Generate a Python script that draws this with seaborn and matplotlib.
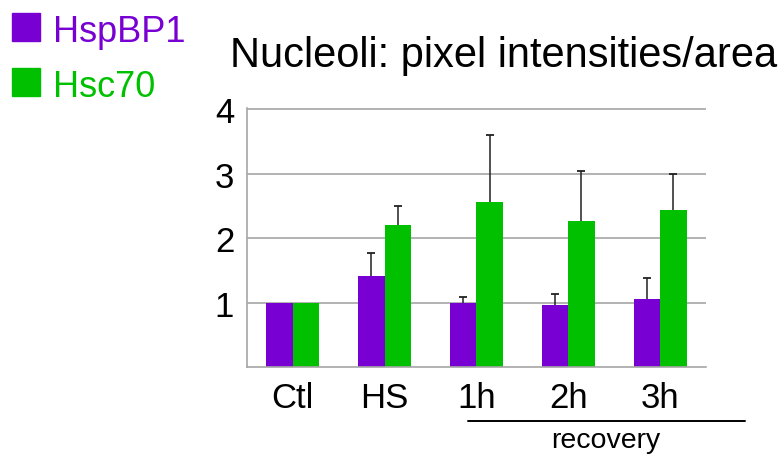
import matplotlib.pyplot as plt
import pandas as pd
import seaborn as sns

conditions = ["Ctl", "HS", "1h", "2h", "3h"]
proteins = ["HspBP1", "Hsc70"]
hspbp1_mean = [1.0, 1.41, 1.0, 0.96, 1.05]
hspbp1_err = [0.0, 0.36, 0.09, 0.18, 0.33]
hsc70_mean = [1.0, 2.21, 2.56, 2.26, 2.44]
hsc70_err = [0.0, 0.29, 1.04, 0.78, 0.55]
yticks = [1, 2, 3, 4]

purple = "#7800D2"
green = "#00C000"

df = pd.DataFrame({
    "condition": conditions * 2,
    "protein": [proteins[0]] * 5 + [proteins[1]] * 5,
    "value": hspbp1_mean + hsc70_mean,
    "err": hspbp1_err + hsc70_err,
})

sns.set_style("white")
plt.rcParams["font.family"] = ["Liberation Sans", "DejaVu Sans"]
plt.rcParams["text.color"] = "black"

fig = plt.figure(figsize=(7.83, 4.56), dpi=100)
ax = fig.add_axes([0.315, 0.193, 0.587, 0.568])

sns.barplot(
    data=df, x="condition", y="value", hue="protein",
    order=conditions, hue_order=proteins,
    palette=[purple, green], saturation=1, width=0.57, errorbar=None,
    linewidth=0, legend=False, ax=ax,
)

# upward-only error bars at the bar centres seaborn placed
for patch, err in zip(list(ax.patches), df["err"]):
    if err > 0:
        cx = patch.get_x() + patch.get_width() / 2
        top = patch.get_height()
        ax.errorbar(cx, top, yerr=[[0], [err]], fmt="none",
                    ecolor="#222222", elinewidth=1.1, capsize=0)
        ax.plot(cx, top + err, marker="_", ms=6, mew=1.3, color="#222222")

ax.set_xlim(-0.5, 4.5)
ax.set_ylim(0, 4.02)
ax.set_yticks(yticks)
ax.set_yticklabels([str(t) for t in yticks])
ax.yaxis.grid(True, color="#a6a6a6", linewidth=1.2)
ax.set_axisbelow(True)
ax.tick_params(axis="both", length=0, labelsize=25, colors="black")
ax.tick_params(axis="y", pad=9)
ax.tick_params(axis="x", pad=10)
ax.set_xlabel("")
ax.set_ylabel("")
for side in ["top", "right"]:
    ax.spines[side].set_visible(False)
for side in ["left", "bottom"]:
    ax.spines[side].set_color("#a6a6a6")
    ax.spines[side].set_linewidth(1.2)

fig.text(0.294, 0.853, "Nucleoli: pixel intensities/area", fontsize=30,
         ha="left", va="baseline")

# legend as coloured squares + coloured text
for i, (name, col) in enumerate(zip(proteins, [purple, green])):
    y0 = 0.908 - i * 0.121
    fig.patches.append(plt.Rectangle((0.0153, y0), 0.0357, 0.061,
                                     transform=fig.transFigure, color=col))
    fig.text(0.0677, y0, name, fontsize=26, color=col, ha="left", va="baseline")

# recovery bracket
ax.plot([1.91, 4.92], [-0.834, -0.834], color="black", lw=1.4, clip_on=False)
ax.text(3.41, -1.245, "recovery", fontsize=20.5, ha="center", va="baseline",
        clip_on=False)

fig.savefig("out.png", dpi=100)
